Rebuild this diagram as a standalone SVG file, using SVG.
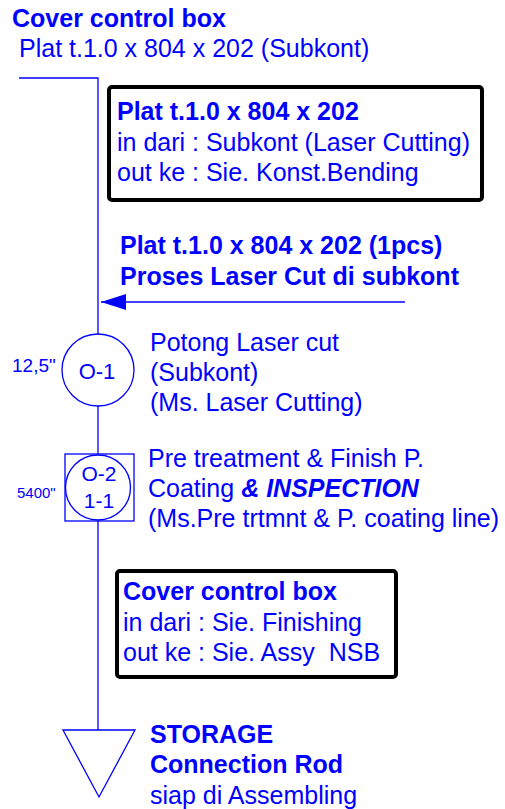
<svg xmlns="http://www.w3.org/2000/svg" width="505" height="809" viewBox="0 0 505 809">
<style>
text{font-family:"Liberation Sans",Arial,sans-serif;fill:#0000ff;font-size:25px;white-space:pre}
.b{font-weight:bold}
.ln{stroke:#0000ff;stroke-width:1.3;fill:none}
.box{fill:#fff;stroke:#000;stroke-width:4}
</style>
<defs>
<marker id="ah" markerWidth="26" markerHeight="16" refX="25" refY="8" orient="auto" markerUnits="userSpaceOnUse">
<path d="M0,0 L25,8 L0,16 Z" fill="#0000ff"/>
</marker>
</defs>
<g id="title">
<text x="12" y="27" class="b">Cover control box</text>
<text x="19" y="57">Plat t.1.0 x 804 x 202 (Subkont)</text>
</g>
<g id="connectors">
<path class="ln" d="M19,78 H98 V334"/>
<path class="ln" d="M98,406 V454"/>
<path class="ln" d="M98,521 V730"/>
<path class="ln" d="M405,302 H101" marker-end="url(#ah)" stroke-width="2"/>
</g>
<g id="box1">
<rect class="box" x="109" y="87" width="373" height="113" rx="3"/>
<text x="117" y="120" class="b">Plat t.1.0 x 804 x 202</text>
<text x="117" y="151">in dari : Subkont (Laser Cutting)</text>
<text x="117" y="181">out ke : Sie. Konst.Bending</text>
</g>
<g id="input">
<text x="120" y="254" class="b">Plat t.1.0 x 804 x 202 (1pcs)</text>
<text x="120" y="285" class="b">Proses Laser Cut di subkont</text>
</g>
<g id="o1">
<circle class="ln" cx="98" cy="370" r="36"/>
<text x="97" y="379" text-anchor="middle" style="font-size:22px">O-1</text>
<text x="12" y="372" style="font-size:19px">12,5"</text>
<text x="150" y="351">Potong Laser cut</text>
<text x="150" y="381">(Subkont)</text>
<text x="150" y="411">(Ms. Laser Cutting)</text>
</g>
<g id="o2">
<rect class="ln" x="65" y="454" width="69" height="67"/>
<circle class="ln" cx="98" cy="487.5" r="32.5"/>
<text x="99" y="481" text-anchor="middle" style="font-size:21px">O-2</text>
<text x="99" y="508" text-anchor="middle" style="font-size:21px">1-1</text>
<text x="17" y="498" style="font-size:15px">5400"</text>
<text x="148" y="467">Pre treatment &amp; Finish P.</text>
<text x="148" y="497">Coating <tspan class="b" font-style="italic">&amp; INSPECTION</tspan></text>
<text x="148" y="527">(Ms.Pre trtmnt &amp; P. coating line)</text>
</g>
<g id="box2">
<rect class="box" x="117" y="571" width="279" height="106" rx="3"/>
<text x="123" y="600" class="b">Cover control box</text>
<text x="123" y="631">in dari : Sie. Finishing</text>
<text x="123" y="661">out ke : Sie. Assy  NSB</text>
</g>
<g id="storage">
<path class="ln" d="M63,730 H135 L99,797 Z"/>
<text x="150" y="743" class="b">STORAGE</text>
<text x="150" y="773" class="b">Connection Rod</text>
<text x="150" y="804">siap di Assembling</text>
</g>
</svg>
